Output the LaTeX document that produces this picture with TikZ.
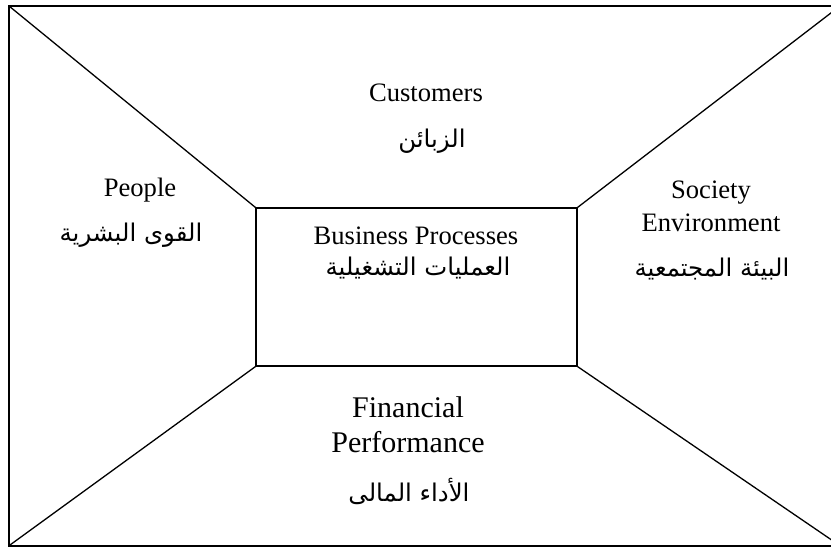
\documentclass[tikz,border=0pt]{standalone}
\usepackage{fontspec}
\setmainfont{Liberation Serif}
\newfontfamily\arabicfont[Script=Arabic]{DejaVu Sans}
\TeXXeTstate=1

\begin{document}
\begin{tikzpicture}[x=0.5pt,y=-0.5pt]
			\tikzstyle{Core}   = [draw, line width=0.6pt, minimum width=160.5pt, minimum height=79pt, inner sep=0pt]
			\tikzstyle{Ray}    = [line width=0.65pt]
			\tikzstyle{EnText} = [align=center, font=\fontsize{13.3}{16.5}\selectfont, inner sep=0pt]
			\tikzstyle{ArText} = [font=\fontsize{12.2}{14}\selectfont\arabicfont, inner sep=0pt]

			\useasboundingbox (0,0) rectangle (831,547);
			\clip (0,0) rectangle (831,547);
			% frame runs off the page on the right
			\coordinate (nw) at (9,6); \coordinate (ne) at (840,6);
			\coordinate (sw) at (9,545.7); \coordinate (se) at (840,545.7);
			\draw[line width=1pt] (ne) -- (nw) -- (sw) -- (se);
			\node[Core] (process) at (416.5,287) {};
			\draw[Ray] (nw) -- (process.north west);
			\draw[Ray] (ne) -- (process.north east);
			\draw[Ray] (sw) -- (process.south west);
			\draw[Ray] (se) -- (process.south east);

			\node[EnText] (customers) at (426,93) {Customers};
			\node[ArText] (customers-ar) at (432,141) {\beginR الزبائن\endR};
			\node[EnText] (people) at (140,190) {People};
			\node[ArText] (people-ar) at (131,235) {\beginR القوى البشرية\endR};
			\node[EnText] (society) at (711,206) {Society\\Environment};
			\node[ArText] (society-ar) at (712,269) {\beginR البيئة المجتمعية\endR};
			\node[EnText] (business) at (416,236) {Business Processes};
			\node[ArText] (business-ar) at (418,268) {\beginR العمليات التشغيلية\endR};
			\node[EnText, font=\fontsize{15}{17.5}\selectfont] (financial) at (408,425) {Financial\\Performance};
			\node[ArText] (financial-ar) at (409,491) {\beginR الأداء المالى\endR};
		\end{tikzpicture}
\end{document}
